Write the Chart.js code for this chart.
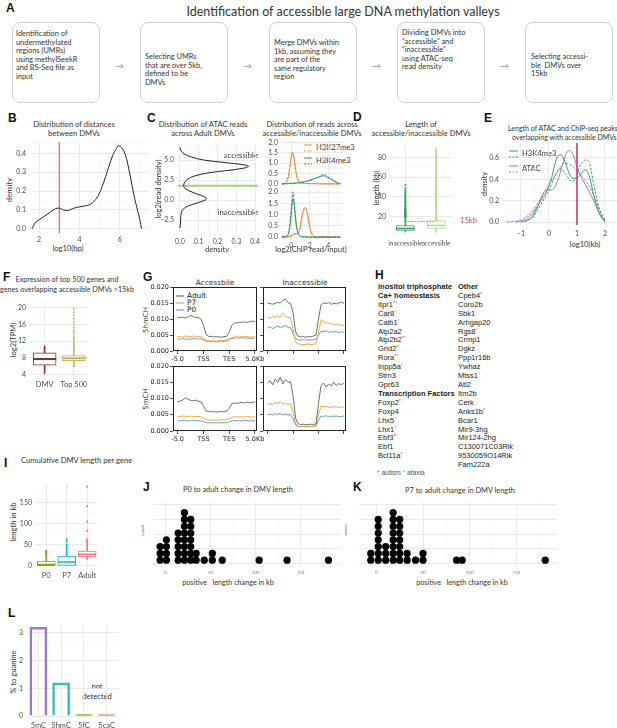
<!DOCTYPE html>
<html><head><meta charset="utf-8"><title>Accessible large DNA methylation valleys</title>
<script src="https://cdn.jsdelivr.net/npm/chart.js@4.4.1/dist/chart.umd.min.js"></script>
<style>
html,body{margin:0;padding:0;background:#fff;}
#root{position:relative;width:617px;height:728px;overflow:hidden;font-family:Lato,'Liberation Sans',sans-serif;color:#333;}
.t{position:absolute;white-space:nowrap;line-height:1;font-size:7.6px;color:#333;}
.cc{transform:translate(-50%,-50%);}
.lc{transform:translate(0,-50%);}
.rot{transform:translate(-50%,-50%) rotate(-90deg);}
.rot90{transform:translate(-50%,-50%) rotate(90deg);}
.pl{position:absolute;font-family:'Liberation Sans',Arial,sans-serif;font-weight:bold;font-size:12px;color:#111;line-height:1;}
.box{position:absolute;top:22px;width:88px;height:81px;border:1px solid #cfcfcf;border-radius:8px;box-sizing:border-box;}
.btxt{position:absolute;font-size:7.4px;line-height:8.6px;color:#333;white-space:nowrap;}
.arr{position:absolute;top:61px;font-size:9px;color:#9a9a9a;line-height:1;}
.h{position:absolute;font-family:'Liberation Sans',Arial,sans-serif;font-size:7.5px;line-height:8.9px;color:#222;white-space:nowrap;}
.h i{font-style:normal;font-size:5.5px;line-height:0;vertical-align:2px;}
.s1{color:#e53b3b}.s2{color:#f28a9a}
svg.ov{position:absolute;left:0;top:0;z-index:5;pointer-events:none;}
</style></head>
<body>
<div id="root">
  <div class="pl" style="left:6px;top:2px">A</div>
  <div class="t cc" style="left:343px;top:12px;font-size:12.5px;color:#333">Identification of accessible large DNA methylation valleys</div>
  <div class="box" style="left:12px"></div>
  <div class="box" style="left:140px"></div>
  <div class="box" style="left:269px"></div>
  <div class="box" style="left:397px"></div>
  <div class="box" style="left:525px"></div>
  <div class="btxt" style="left:16px;top:30px">Identification of<br>undermethylated<br>regions (UMRs)<br>using methylSeekR<br>and BS-Seq file as<br>input</div>
  <div class="btxt" style="left:145px;top:53px">Selecting UMRs<br>that are over 5kb,<br>defined to be<br>DMVs</div>
  <div class="btxt" style="left:274px;top:39px">Merge DMVs within<br>1kb, assuming they<br>are part of the<br>same regulatory<br>region</div>
  <div class="btxt" style="left:402px;top:29px">Dividing DMVs into<br>“accessible” and<br>“inaccessible”<br>using ATAC-seq<br>read density</div>
  <div class="btxt" style="left:531px;top:53px">Selecting accessi-<br>ble&nbsp; DMVs over<br>15kb</div>
  <div class="arr" style="left:115px">→</div>
  <div class="arr" style="left:243px">→</div>
  <div class="arr" style="left:372px">→</div>
  <div class="arr" style="left:500px">→</div>

  <div class="pl" style="left:8px;top:112px">B</div>
  <div class="pl" style="left:147px;top:112px">C</div>
  <div class="pl" style="left:353px;top:111px">D</div>
  <div class="pl" style="left:484px;top:112px">E</div>
  <div class="pl" style="left:3px;top:271px">F</div>
  <div class="pl" style="left:143px;top:271px">G</div>
  <div class="pl" style="left:375px;top:269px">H</div>
  <div class="pl" style="left:4px;top:457px">I</div>
  <div class="pl" style="left:143px;top:481px">J</div>
  <div class="pl" style="left:353px;top:481px">K</div>
  <div class="pl" style="left:8px;top:607px">L</div>

  <div class="h" style="left:378px;top:283px"><b>inositol triphosphate</b><br><b>Ca+ homeostasis</b><br>Itpr1<i class="s1">*</i><i class="s2">*</i><br>Car8<i class="s2">*</i><br>Calb1<i class="s2">*</i><br>Atp2a2<br>Atp2b2<i class="s1">*</i><i class="s2">*</i><br>Grid2<i class="s1">*</i><i class="s2">*</i><br>Rora<i class="s1">*</i><i class="s2">*</i><br>Inpp5a<i class="s2">*</i><br>Strn3<br>Gpr63<br><b>Transcription Factors</b><br>Foxp2<i class="s1">*</i><br>Foxp4<br>Lhx5<i class="s2">*</i><br>Lhx1<i class="s2">*</i><br>Ebf3<i class="s1">*</i><i class="s2">*</i><br>Ebf1<br>Bcl11a<i class="s1">*</i></div>
  <div class="h" style="left:458px;top:283px"><b>Other</b><br>Cpeb4<i class="s1">*</i><br>Coro2b<br>Sbk1<br>Arhgap20<br>Rgs8<i class="s2">*</i><br>Crmp1<br>Dgkz<br>Ppp1r16b<br>Ywhaz<br>Mtss1<i class="s2">*</i><br>Atl2<br>Itm2b<br>Cerk<br>Anks1b<i class="s1">*</i><br>Bcar1<br>Mir9-3hg<br>Mir124-2hg<br>C130071C03Rik<br>9530059O14Rik<br>Fam222a</div>
  <div class="h" style="left:377px;top:469px;font-size:6.6px;color:#555"><i class="s1" style="font-size:6.6px;vertical-align:0">*</i> autism <i class="s2" style="font-size:6.6px;vertical-align:0">*</i> ataxia</div>

  <svg class="ov" width="617" height="728">
    <line x1="304" y1="145" x2="312" y2="145" stroke="#f0883c" stroke-width="1"/>
    <line x1="304" y1="151" x2="312" y2="151" stroke="#f0883c" stroke-width="1" stroke-dasharray="2,1.5"/>
    <line x1="304" y1="158" x2="312" y2="158" stroke="#2e9a5a" stroke-width="1"/>
    <line x1="304" y1="164" x2="312" y2="164" stroke="#2e9a5a" stroke-width="1" stroke-dasharray="2,1.5"/>
    <line x1="509" y1="151" x2="518" y2="151" stroke="#35a066" stroke-width="1"/>
    <line x1="509" y1="157" x2="518" y2="157" stroke="#35a066" stroke-width="1" stroke-dasharray="2,1.5"/>
    <line x1="509" y1="166" x2="518" y2="166" stroke="#a478cf" stroke-width="1"/>
    <line x1="509" y1="172" x2="518" y2="172" stroke="#a478cf" stroke-width="1" stroke-dasharray="2,1.5"/>
    <line x1="176" y1="296" x2="184" y2="296" stroke="#6e6e6e" stroke-width="1.2"/>
    <line x1="176" y1="303" x2="184" y2="303" stroke="#f6a540" stroke-width="1.2"/>
    <line x1="176" y1="310" x2="184" y2="310" stroke="#6c9bd6" stroke-width="1.2"/>
  </svg>
</div>
<script>
// ---------------- DATA ----------------
// B: distribution of distances between DMVs
const B_x = [1.65,1.8,2.0,2.2,2.4,2.6,2.8,3.0,3.2,3.4,3.6,3.8,4.0,4.2,4.4,4.6,4.8,5.0,5.2,5.4,5.6,5.8,5.95,6.1,6.3,6.5,6.7,6.9,7.0,7.08];
const B_density = [0.0,0.03,0.048,0.062,0.077,0.092,0.106,0.11,0.1,0.097,0.104,0.112,0.116,0.12,0.124,0.134,0.155,0.19,0.245,0.31,0.375,0.42,0.44,0.43,0.385,0.29,0.18,0.09,0.045,0.0];
const B_cutoff = 3;

// C (left): ATAC read density across adult DMVs
const C_readDensity = [6.6,6.2,5.8,5.4,5.0,4.7,4.45,4.25,4.0,3.7,3.4,3.0,2.6,2.2,1.8,1.4,1.0,0.6,0.25,0.0,-0.3,-0.6,-0.9,-1.3,-1.8,-2.5,-3.0,-3.5];
const C_density = [0.0,0.006,0.022,0.06,0.13,0.24,0.33,0.365,0.34,0.25,0.15,0.075,0.04,0.025,0.02,0.03,0.065,0.11,0.14,0.135,0.1,0.06,0.03,0.012,0.006,0.004,0.003,0.0];
const C_cutoff = 1.8;

// C (right): ChIP read/input distributions
const CA_k27_x = [-1.0,-0.6,-0.3,-0.1,0.05,0.15,0.3,0.45,0.7,1.0,1.5,2.5,3.5,4.5,5.3];
const CA_k27_solid = [0.0,0.05,0.35,0.95,1.4,1.52,1.3,0.8,0.25,0.06,0.02,0.01,0.0,0.0,0.0];
const CA_k27_dash = [0.0,0.06,0.38,0.98,1.38,1.45,1.2,0.7,0.22,0.05,0.02,0.01,0.0,0.0,0.0];
const CA_k4_x = [-1.0,-0.5,0.0,0.5,1.0,1.5,2.0,2.5,3.0,3.5,4.0,4.5,5.0,5.3];
const CA_k4_solid = [0.0,0.01,0.02,0.04,0.07,0.11,0.17,0.25,0.33,0.39,0.3,0.17,0.05,0.0];
const CA_k4_dash = [0.0,0.01,0.02,0.04,0.07,0.1,0.16,0.24,0.34,0.45,0.33,0.18,0.06,0.0];
const CI_k4_x = [-1.0,-0.5,-0.2,0.0,0.1,0.2,0.3,0.45,0.6,0.8,1.0,1.5,2.5,5.3];
const CI_k4_solid = [0.0,0.02,0.3,1.0,1.45,1.72,1.5,0.9,0.4,0.12,0.04,0.01,0.0,0.0];
const CI_k4_dash = [0.0,0.03,0.4,1.25,1.8,2.0,1.7,1.0,0.42,0.12,0.04,0.01,0.0,0.0];
const CI_k27_x = [-1.0,-0.3,0.0,0.3,0.6,0.9,1.1,1.3,1.5,1.7,1.9,2.1,2.3,2.6,3.0,5.3];
const CI_k27_solid = [0.0,0.02,0.05,0.12,0.15,0.3,0.8,1.2,1.32,1.15,0.7,0.3,0.1,0.02,0.0,0.0];
const CI_k27_dash = [0.0,0.02,0.06,0.15,0.18,0.3,0.75,1.15,1.28,1.1,0.68,0.28,0.09,0.02,0.0,0.0];

// D: length of DMVs (boxplot stats, kb)
const D_categories = ['inaccessible','accessible'];
const D_low = [5,5];
const D_q1 = [6,8];
const D_median = [8,11];
const D_q3 = [11,16];
const D_high = [18,28];
const D_out_inaccessible = [19,19.5,20,20.5,21,22,22.5,23,24,25,25.5,26.5,27.5,28.5,30,31,32.5,34,35.5,37,38.5,40,42,44,46,48.5,52];
const D_out_accessible = [29,30,31,32,33,34,35,36,37,38,39,40.5,42,43,44,45.5,47,48,49.5,51,52,53.5,55,56,57.5,59,60,61.5,63,64.5,66,67,68.5,70,71.5,73,74.5,76,77.5,79,80.5,82,84,86,88];
const D_cutoff = 15;

// E: peak length densities (log10 kb)
const E_k4_x = [-0.9,-0.6,-0.3,-0.1,0.1,0.25,0.4,0.55,0.7,0.85,1.0,1.15,1.3,1.45,1.6,1.8,2.0];
const E_k4_solid = [0,0.05,0.2,0.28,0.42,0.58,0.63,0.58,0.47,0.41,0.41,0.45,0.49,0.42,0.25,0.08,0.0];
const E_k4d_x = [-1.0,-0.6,-0.3,0,0.2,0.4,0.6,0.8,0.95,1.1,1.3,1.45,1.6,1.8,2.0];
const E_k4_dash = [0,0.04,0.16,0.3,0.42,0.5,0.45,0.38,0.4,0.52,0.58,0.55,0.35,0.12,0.01];
const E_atac_x = [-1.2,-0.8,-0.4,-0.1,0.1,0.3,0.5,0.7,0.85,1.0,1.2,1.4,1.6,1.8,2.0];
const E_atac_solid = [0,0.03,0.15,0.3,0.3,0.38,0.55,0.67,0.64,0.52,0.4,0.3,0.2,0.08,0.01];
const E_atacd_x = [-1.5,-1.0,-0.6,-0.3,0,0.3,0.55,0.8,1.0,1.2,1.4,1.6,1.8,2.0];
const E_atac_dash = [0,0.02,0.1,0.22,0.35,0.47,0.55,0.53,0.48,0.42,0.35,0.25,0.12,0.02];
const E_marker = 1;

// F: expression boxplots log2(TPM)
const F_categories = ['DMV','Top 500'];
const F_low = [4.2,6.4];
const F_q1 = [6.2,7.3];
const F_median = [7.7,7.9];
const F_q3 = [9.2,8.5];
const F_high = [10.8,10.2];
const F_out_DMV = [];
const F_out_Top500 = [5.9,6.1,10.4,10.6,10.9,11.2,11.5,11.8,12.1,12.5,12.9,13.3,13.8,14.3,14.8,15.4,16.0,16.7,17.4,18.2,19.0,19.8];

// G: profiles, 31 bins (-5kb .. TSS .. TES .. +5kb)
const G_x = [0,1,2,3,4,5,6,7,8,9,10,11,12,13,14,15,16,17,18,19,20,21,22,23,24,25,26,27,28,29,30];
const G_tick_labels = ['-5.0','TSS','TES','5.0Kb'];
const G_hmC_acc_adult = [0.0105,0.0104,0.0106,0.0103,0.0107,0.0112,0.0108,0.0104,0.0105,0.0100,0.0082,0.0052,0.0046,0.0045,0.0044,0.0045,0.0044,0.0043,0.0045,0.0046,0.0058,0.0080,0.0087,0.0088,0.0089,0.0090,0.0091,0.0089,0.0092,0.0093,0.0091];
const G_hmC_acc_p7 = [0.0045,0.0046,0.0044,0.0047,0.0046,0.0045,0.0047,0.0044,0.0046,0.0045,0.0040,0.0034,0.0032,0.0031,0.0032,0.0031,0.0032,0.0033,0.0032,0.0033,0.0038,0.0042,0.0044,0.0047,0.0043,0.0045,0.0044,0.0046,0.0043,0.0045,0.0044];
const G_hmC_acc_p0 = [0.0038,0.0037,0.0039,0.0036,0.0038,0.0037,0.0039,0.0038,0.0037,0.0038,0.0035,0.0031,0.0030,0.0029,0.0030,0.0029,0.0030,0.0031,0.0030,0.0031,0.0035,0.0039,0.0040,0.0041,0.0040,0.0042,0.0039,0.0041,0.0040,0.0039,0.0041];
const G_hmC_inacc_adult = [0.0150,0.0148,0.0146,0.0149,0.0152,0.0150,0.0158,0.0162,0.0151,0.0149,0.0120,0.0060,0.0046,0.0044,0.0045,0.0043,0.0046,0.0044,0.0047,0.0049,0.0100,0.0145,0.0150,0.0148,0.0152,0.0146,0.0149,0.0147,0.0150,0.0153,0.0149];
const G_hmC_inacc_p7 = [0.0105,0.0102,0.0108,0.0104,0.0110,0.0106,0.0118,0.0109,0.0106,0.0104,0.0070,0.0028,0.0022,0.0021,0.0020,0.0021,0.0022,0.0020,0.0021,0.0023,0.0060,0.0098,0.0092,0.0088,0.0086,0.0085,0.0083,0.0084,0.0082,0.0080,0.0081];
const G_hmC_inacc_p0 = [0.0072,0.0075,0.0070,0.0074,0.0078,0.0073,0.0076,0.0079,0.0074,0.0072,0.0055,0.0038,0.0035,0.0034,0.0036,0.0034,0.0035,0.0034,0.0036,0.0037,0.0048,0.0062,0.0060,0.0063,0.0058,0.0061,0.0059,0.0062,0.0057,0.0060,0.0059];
const G_mC_acc_adult = [0.0090,0.0092,0.0095,0.0102,0.0098,0.0094,0.0093,0.0095,0.0092,0.0090,0.0078,0.0062,0.0060,0.0059,0.0060,0.0058,0.0059,0.0060,0.0059,0.0061,0.0070,0.0084,0.0086,0.0085,0.0087,0.0088,0.0086,0.0089,0.0087,0.0088,0.0090];
const G_mC_acc_p7 = [0.0045,0.0044,0.0046,0.0045,0.0044,0.0046,0.0045,0.0044,0.0045,0.0044,0.0040,0.0035,0.0034,0.0033,0.0034,0.0033,0.0034,0.0035,0.0034,0.0035,0.0038,0.0042,0.0043,0.0044,0.0043,0.0044,0.0043,0.0045,0.0044,0.0043,0.0044];
const G_mC_acc_p0 = [0.0032,0.0031,0.0033,0.0032,0.0031,0.0032,0.0033,0.0031,0.0032,0.0031,0.0029,0.0026,0.0025,0.0025,0.0026,0.0025,0.0025,0.0026,0.0025,0.0026,0.0028,0.0031,0.0032,0.0031,0.0032,0.0031,0.0033,0.0032,0.0031,0.0032,0.0031];
const G_mC_inacc_adult = [0.0148,0.0155,0.0142,0.0160,0.0150,0.0165,0.0145,0.0158,0.0150,0.0152,0.0110,0.0040,0.0022,0.0020,0.0021,0.0019,0.0020,0.0021,0.0020,0.0022,0.0085,0.0140,0.0148,0.0135,0.0145,0.0138,0.0150,0.0140,0.0146,0.0142,0.0148];
const G_mC_inacc_p7 = [0.0082,0.0085,0.0080,0.0088,0.0084,0.0090,0.0083,0.0086,0.0082,0.0084,0.0060,0.0022,0.0015,0.0014,0.0015,0.0014,0.0015,0.0014,0.0015,0.0016,0.0050,0.0078,0.0074,0.0076,0.0072,0.0075,0.0073,0.0076,0.0072,0.0074,0.0073];
const G_mC_inacc_p0 = [0.0050,0.0052,0.0049,0.0053,0.0051,0.0054,0.0050,0.0052,0.0049,0.0051,0.0038,0.0018,0.0014,0.0013,0.0014,0.0013,0.0014,0.0013,0.0014,0.0015,0.0032,0.0046,0.0045,0.0047,0.0044,0.0046,0.0045,0.0046,0.0044,0.0045,0.0046];

// I: cumulative DMV length per gene (kb)
const I_categories = ['P0','P7','Adult'];
const I_low = [0,0,15];
const I_q1 = [0.5,1,21];
const I_median = [3,9,27];
const I_q3 = [11,23,35];
const I_high = [25,52,52];
const I_out_P0 = [27,29,31,33,36];
const I_out_P7 = [58,63];
const I_out_Adult = [55,58,62,83,105,141,188];

// J / K: dot plots of change in DMV length (kb)
const J_bins = [-6,1,14,21,28,34,43,52,63,104,135,181];
const J_counts = [3,4,5,8,7,2,1,2,1,1,1,1];
const K_bins = [-6,2,10,18,25,33,42,50,86,92,181];
const K_counts = [2,7,3,8,7,2,1,2,1,1,1];

// L: % to guanine
const L_categories = ['5mC','5hmC','5fC','5caC'];
const L_values = [3.2,1.2,0.05,0.05];

// ---------------- HELPERS ----------------
Chart.defaults.font.family = 'Lato';
Chart.defaults.font.size = 7;
Chart.defaults.color = '#4d4d4d';
Chart.defaults.animation = false;
Chart.defaults.plugins.legend.display = false;
Chart.defaults.plugins.tooltip.enabled = false;
Chart.defaults.elements.line.tension = 0;

const root = document.getElementById('root');
function mk(left, top, w, h, cfg){
  const c = document.createElement('canvas');
  c.width = w; c.height = h;
  c.style.cssText = 'position:absolute;left:'+left+'px;top:'+top+'px;width:'+w+'px;height:'+h+'px';
  root.appendChild(c);
  cfg.options = cfg.options || {};
  cfg.options.responsive = false;
  cfg.options.maintainAspectRatio = false;
  cfg.options.devicePixelRatio = 1;
  return new Chart(c, cfg);
}
function T(html, x, y, mode, extra){
  const d = document.createElement('div');
  d.className = 't ' + (mode || 'cc');
  d.style.left = x + 'px'; d.style.top = y + 'px';
  if (extra) d.style.cssText += extra;
  d.innerHTML = html;
  root.appendChild(d);
}
const near = (v, m) => Math.abs(v / m - Math.round(v / m)) < 1e-6;
function fixPad(s){ s.paddingTop = 0; s.paddingBottom = 0; s.paddingLeft = 0; s.paddingRight = 0; }
function lin(o){
  const horiz = o.pos === 'bottom' || o.pos === 'top';
  return {
    type:'linear', position:o.pos, min:o.min, max:o.max,
    afterFit: s => { if (horiz) s.height = o.size; else s.width = o.size; fixPad(s); },
    border:{display:false},
    grid:{display:o.grid !== false, drawTicks:false,
      color: c => (c.tick && near(c.tick.value, o.major)) ? '#e3e3e3' : '#f1f1f1',
      lineWidth: c => (c.tick && near(c.tick.value, o.major)) ? 0.8 : 0.5},
    ticks:{display:o.labels !== false, stepSize:o.step, includeBounds:false, autoSkip:false, maxRotation:0,
      padding: o.pad === undefined ? 3 : o.pad, color:o.color || '#4d4d4d', font:{size:o.fs || 7},
      callback: v => near(v, o.major) ? o.fmt(v) : ''}
  };
}
function cat(o){
  return {type:'category', position:'bottom', offset:true,
    afterFit: s => { s.height = o.size; fixPad(s); },
    border:{display:false},
    grid:{display:true, drawTicks:false, offset:false, color:'#e3e3e3', lineWidth:0.8},
    ticks:{autoSkip:false, maxRotation:0, padding:o.pad || 3, color:'#4d4d4d', font:{size:o.fs || 7.5}}};
}
const fmt1 = v => (v < 0 ? '\u2212' : '') + Math.abs(v).toFixed(1);
const fmtInt = v => String(Math.round(v));
const pts = (xs, ys) => xs.map((x, i) => ({x:x, y:ys[i]}));
function curve(data, color, dash, w){
  return {data:data, borderColor:color, borderWidth:w || 1, borderDash:dash ? [2.5,1.5] : [], pointRadius:0, cubicInterpolationMode:'monotone'};
}
function boxSets(cats, lo, q1, med, q3, hi, outs, cols, thick, medW, outR){
  const sets = [
    {type:'bar', data: lo.map((v,i) => [v, hi[i]]), backgroundColor:cols, borderWidth:0, barThickness:1, grouped:false, order:4},
    {type:'bar', data: q1.map((v,i) => [v, q3[i]]), backgroundColor:'#ffffff', borderColor:cols, borderWidth:1, borderSkipped:false, barThickness:thick, grouped:false, order:3},
    {type:'line', data: med.slice(), showLine:false, pointStyle:'line', pointRadius:thick/2, pointHoverRadius:thick/2, pointBorderColor:cols, pointBackgroundColor:cols, pointBorderWidth:medW, order:2}
  ];
  outs.forEach((arr, i) => sets.push({type:'line', data: arr.map(v => ({x:cats[i], y:v})), showLine:false, pointRadius:outR, pointBorderWidth:0, pointBackgroundColor:cols[i], order:1}));
  return sets;
}
function stackDots(bins, counts){
  const out = [];
  bins.forEach((b, i) => { for (let k = 1; k <= counts[i]; k++) out.push({x:b, y:k}); });
  return out;
}
const framePlugin = {id:'frame', afterDraw(chart){
  const a = chart.chartArea, c = chart.ctx;
  c.save(); c.strokeStyle = '#222'; c.lineWidth = 1;
  c.strokeRect(Math.round(a.left) + 0.5, Math.round(a.top) + 0.5, Math.round(a.right - a.left) - 1, Math.round(a.bottom - a.top) - 1);
  c.restore();
}};

// ---------------- B ----------------
T('Distribution of distances', 74, 125);
T('between DMVs', 74, 134);
T('density', 10, 190, 'rot');
T('log10(bp)', 68, 249);
mk(0, 135, 155, 115, {type:'line', data:{datasets:[
    curve(pts(B_x, B_density), '#222', false, 1),
    {data:[{x:B_cutoff, y:-0.022},{x:B_cutoff, y:0.46}], borderColor:'#e0463c', borderWidth:1, pointRadius:0}
  ]},
  options:{layout:{padding:{top:7, right:7, left:0, bottom:0}}, scales:{
    x: lin({pos:'bottom', min:1.6, max:7.4, step:1, major:2, size:17, fmt:fmtInt, pad:3}),
    y: lin({pos:'left', min:-0.022, max:0.46, step:0.05, major:0.1, size:31, fmt:v => v.toFixed(1), pad:5})
  }}});

// ---------------- C left ----------------
T('Distribution of ATAC reads', 203, 125);
T('across Adult DMVs', 203, 134);
T('log2(read density)', 159, 189, 'rot');
T('density', 217, 250);
T('accessible', 258, 156, 'lc', 'transform:translate(-100%,-50%);font-size:7.8px');
T('inaccessible', 258, 213, 'lc', 'transform:translate(-100%,-50%);font-size:7.8px');
mk(150, 140, 110, 106, {type:'line', data:{datasets:[
    {data:pts(C_density, C_readDensity), borderColor:'#222', borderWidth:1, pointRadius:0, tension:0.35},
    {data:[{x:-0.01, y:C_cutoff},{x:0.415, y:C_cutoff}], borderColor:'#a5d07f', borderWidth:2, pointRadius:0}
  ]},
  options:{layout:{padding:{top:5, right:2, left:0, bottom:0}}, scales:{
    x: lin({pos:'bottom', min:-0.01, max:0.415, step:0.05, major:0.1, size:14, fmt:v => v.toFixed(1), pad:6}),
    y: lin({pos:'left', min:-4, max:6.9, step:1.25, major:2.5, size:28, fmt:fmt1, pad:4})
  }}});

// ---------------- C right ----------------
T('Distribution of reads across', 312, 125);
T('accessible/inaccessible DMVs', 312, 134);
T('H3K27me3', 316, 148, 'lc', 'font-size:7.6px');
T('H3K4me3', 316, 161, 'lc', 'font-size:7.6px');
T('log2(ChIP read/input)', 311, 250);
mk(262, 137, 81, 50, {type:'line', data:{datasets:[
    curve(pts(CA_k4_x, CA_k4_solid), '#2e9a5a', false),
    curve(pts(CA_k4_x, CA_k4_dash), '#2e9a5a', true),
    curve(pts(CA_k27_x, CA_k27_solid), '#f0883c', false),
    curve(pts(CA_k27_x, CA_k27_dash), '#f0883c', true)
  ]},
  options:{layout:{padding:{top:3, right:0, left:0, bottom:0}}, scales:{
    x: lin({pos:'bottom', min:-1.1, max:5.6, step:1, major:2, size:0, labels:false, fmt:fmtInt}),
    y: lin({pos:'left', min:-0.15, max:2.11, step:0.25, major:0.5, size:19, fmt:v => v.toFixed(1), pad:3})
  }}});
mk(262, 187, 81, 63, {type:'line', data:{datasets:[
    curve(pts(CI_k4_x, CI_k4_solid), '#2e9a5a', false),
    curve(pts(CI_k4_x, CI_k4_dash), '#2e9a5a', true),
    curve(pts(CI_k27_x, CI_k27_solid), '#f0883c', false),
    curve(pts(CI_k27_x, CI_k27_dash), '#f0883c', true)
  ]},
  options:{layout:{padding:{top:3, right:0, left:0, bottom:0}}, scales:{
    x: lin({pos:'bottom', min:-1.1, max:5.6, step:1, major:2, size:10, fmt:fmtInt, pad:2}),
    y: lin({pos:'left', min:-0.13, max:2.1, step:0.25, major:0.5, size:19, fmt:v => v.toFixed(1), pad:3})
  }}});

// ---------------- D ----------------
T('Length of', 421, 125);
T('accessible/inaccessible DMVs', 421, 134);
T('length (kb)', 377, 188, 'rot');
T('15kb', 460, 221, 'lc', 'color:#d9453e;font-size:7.6px');
const D_cols = ['#2f9e5a', '#b5da8b'];
const D_sets = boxSets(D_categories, D_low, D_q1, D_median, D_q3, D_high, [D_out_inaccessible, D_out_accessible], D_cols, 18, 1.5, 1.1);
D_sets.push({type:'line', xAxisID:'x2', data:[{x:0, y:D_cutoff},{x:1, y:D_cutoff}], borderColor:'#e0463c', borderWidth:0.8, borderDash:[1.5,1.5], pointRadius:0, order:0});
mk(350, 135, 112, 111, {type:'bar', data:{labels:D_categories, datasets:D_sets},
  options:{layout:{padding:{top:2, right:2, left:0, bottom:0}}, scales:{
    x: cat({size:10, fs:6.6, pad:4}),
    x2: {type:'linear', display:false, min:0, max:1},
    y: lin({pos:'left', min:0.9, max:92, step:10, major:20, size:40, fmt:fmtInt, pad:4})
  }}});

// ---------------- E ----------------
T('Length of ATAC and ChIP-seq peaks', 508, 128, 'lc', 'font-size:7px');
T('overlapping with accessible DMVs', 512, 137, 'lc', 'font-size:7px');
T('density', 485, 184, 'rot');
T('log10(kb)', 585, 245);
T('H3K4me3', 522, 154, 'lc');
T('ATAC', 522, 169, 'lc');
mk(478, 140, 139, 97, {type:'line', data:{datasets:[
    {data:[{x:E_marker, y:-0.028},{x:E_marker, y:0.74}], borderColor:'rgba(178,80,120,0.85)', borderWidth:2, pointRadius:0},
    curve(pts(E_k4_x, E_k4_solid), '#35a066', false),
    curve(pts(E_k4d_x, E_k4_dash), '#35a066', true),
    curve(pts(E_atac_x, E_atac_solid), '#a478cf', false),
    curve(pts(E_atacd_x, E_atac_dash), '#a478cf', true)
  ]},
  options:{layout:{padding:{top:3, right:0, left:0, bottom:0}}, scales:{
    x: lin({pos:'bottom', min:-1.64, max:2.43, step:0.5, major:1, size:12, fmt:v => (v < 0 ? '\u2212' : '') + Math.abs(Math.round(v)), pad:5}),
    y: lin({pos:'left', min:-0.028, max:0.74, step:0.1, major:0.2, size:25, fmt:v => v.toFixed(1), pad:4})
  }}});

// ---------------- F ----------------
T('Expression of top 500 genes and', 67, 280, 'cc', 'font-size:7.2px');
T('genes overlapping accessible DMVs &gt;15kb', 67, 290, 'cc', 'font-size:7.2px');
T('log2(TPM)', 14, 340, 'rot');
const F_cols = ['#8c2d2d', '#c8b45a'];
mk(0, 292, 102, 100, {type:'bar', data:{labels:F_categories,
    datasets: boxSets(F_categories, F_low, F_q1, F_median, F_q3, F_high, [F_out_DMV, F_out_Top500], F_cols, 23, 2, 0.9)},
  options:{layout:{padding:{top:2, right:2, left:0, bottom:0}}, scales:{
    x: cat({size:10, fs:7.5, pad:2}),
    y: lin({pos:'left', min:3, max:20.6, step:2, major:4, size:30, fmt:fmtInt, pad:4})
  }}});

// ---------------- G ----------------
T('Accessbile', 215, 283, 'cc', "font-family:'DejaVu Sans';font-size:7.4px");
T('Inaccessible', 305, 283, 'cc', "font-family:'DejaVu Sans';font-size:7.4px");
T('5hmCH', 146, 320, 'rot', "font-family:'DejaVu Sans';font-size:7px");
T('5mCH', 146, 399, 'rot', "font-family:'DejaVu Sans';font-size:7px");
T('Adult', 187, 296, 'lc', "font-family:'DejaVu Sans';font-size:7.4px;color:#222");
T('P7', 187, 303, 'lc', "font-family:'DejaVu Sans';font-size:7.4px;color:#222");
T('P0', 187, 310, 'lc', "font-family:'DejaVu Sans';font-size:7.4px;color:#222");
function gSets(adult, p7, p0){
  return [
    {data:pts(G_x, adult), borderColor:'#6e6e6e', borderWidth:1, pointRadius:0},
    {data:pts(G_x, p7), borderColor:'#f6a540', borderWidth:1, pointRadius:0},
    {data:pts(G_x, p0), borderColor:'#6c9bd6', borderWidth:1, pointRadius:0}
  ];
}
function gX(labels){
  return {type:'linear', position:'bottom', min:-1.8, max:30.8,
    afterFit: s => { s.height = 11; fixPad(s); }, border:{display:false},
    grid:{drawOnChartArea:false, drawTicks:true, tickLength:3, color:'#222', lineWidth:0.8},
    ticks:{display:labels, stepSize:10, includeBounds:false, autoSkip:false, maxRotation:0, padding:1, color:'#222',
      font:{family:'DejaVu Sans', size:6.5}, callback: v => G_tick_labels[Math.round(v / 10)]}};
}
function gY(labels, w){
  return {type:'linear', position:'left', min:0, max:0.02,
    afterFit: s => { s.width = w; fixPad(s); }, border:{display:false},
    grid:{drawOnChartArea:false, drawTicks:true, tickLength:3, color:'#222', lineWidth:0.8},
    ticks:{display:labels, stepSize:0.005, includeBounds:false, autoSkip:false, padding:1, color:'#222',
      font:{family:'DejaVu Sans', size:6.5}, callback: v => v.toFixed(3)}};
}
mk(135, 283, 132, 79, {type:'line', data:{datasets:gSets(G_hmC_acc_adult, G_hmC_acc_p7, G_hmC_acc_p0)}, plugins:[framePlugin],
  options:{layout:{padding:{top:4, right:10, left:0, bottom:0}}, scales:{x:gX(true), y:gY(true, 38)}}});
mk(259, 283, 97, 79, {type:'line', data:{datasets:gSets(G_hmC_inacc_adult, G_hmC_inacc_p7, G_hmC_inacc_p0)}, plugins:[framePlugin],
  options:{layout:{padding:{top:4, right:10, left:0, bottom:0}}, scales:{x:gX(false), y:gY(false, 4)}}});
mk(135, 362, 132, 80, {type:'line', data:{datasets:gSets(G_mC_acc_adult, G_mC_acc_p7, G_mC_acc_p0)}, plugins:[framePlugin],
  options:{layout:{padding:{top:4, right:10, left:0, bottom:0}}, scales:{x:gX(true), y:gY(true, 38)}}});
mk(259, 362, 97, 80, {type:'line', data:{datasets:gSets(G_mC_inacc_adult, G_mC_inacc_p7, G_mC_inacc_p0)}, plugins:[framePlugin],
  options:{layout:{padding:{top:4, right:10, left:0, bottom:0}}, scales:{x:gX(false), y:gY(false, 4)}}});

// ---------------- I ----------------
T('Cumulative DMV length per gene', 21, 461, 'lc', 'font-size:7.6px');
T('length in kb', 14, 522, 'rot');
const I_cols = ['#7cae00', '#00bfc4', '#f8766d'];
mk(0, 473, 108, 107, {type:'bar', data:{labels:I_categories,
    datasets: boxSets(I_categories, I_low, I_q1, I_median, I_q3, I_high, [I_out_P0, I_out_P7, I_out_Adult], I_cols, 18, 1.6, 1.1)},
  options:{layout:{padding:{top:2, right:2, left:0, bottom:0}}, scales:{
    x: cat({size:10, fs:7.5, pad:2}),
    y: lin({pos:'left', min:-8.6, max:195, step:25, major:50, size:36, fmt:fmtInt, pad:4})
  }}});

// ---------------- J / K ----------------
T('P0 to adult change in DMV length', 238, 490, 'cc', 'font-size:7.4px');
T('P7 to adult change in DMV length', 460, 491, 'cc', 'font-size:7.4px');
T('positive&nbsp;&nbsp; length change in kb', 228, 583, 'cc', 'font-size:7.2px');
T('positive&nbsp;&nbsp; length change in kb', 462, 583, 'cc', 'font-size:7.2px');
T('count', 143, 530, 'rot', 'font-size:4.5px;color:#666');
T('count', 346, 530, 'rot90', 'font-size:4.5px;color:#666');
function dotChart(left, width, bins, counts, xmin, xmax){
  mk(left, 498, width, 78, {type:'scatter', data:{datasets:[
      {data: stackDots(bins, counts), pointRadius:3.6, pointBackgroundColor:'#000', pointBorderWidth:0, xAxisID:'x', yAxisID:'y'}
    ]},
    options:{layout:{padding:{top:2, right:1, left:0, bottom:0}}, scales:{
      x: lin({pos:'bottom', min:xmin, max:xmax, step:25, major:50, size:10, fmt:fmtInt, fs:4.5, color:'#888', pad:4}),
      yg: lin({pos:'left', min:-0.05, max:1.05, step:0.25, major:0.25, size:0, labels:false, fmt:v => ''}),
      y: {type:'linear', display:false, min:0.143, max:9.571}
    }}});
}
dotChart(150, 194, J_bins, J_counts, -12.8, 193.8);
dotChart(355, 206, K_bins, K_counts, -18.6, 193.6);

// ---------------- L ----------------
T('% to guanine', 14, 672, 'rot');
T('not', 97, 687, 'cc', 'font-size:7.6px');
T('detected', 97, 697, 'cc', 'font-size:7.6px');
const L_cols = ['#a46fd6', '#2ebfbf', '#7cae00', '#f08080'];
mk(0, 623, 120, 105, {type:'bar', data:{labels:L_categories, datasets:[
    {data:L_values, backgroundColor:['rgba(255,255,255,0)','rgba(255,255,255,0)', L_cols[2], L_cols[3]], borderColor:L_cols, borderWidth:1.8, borderSkipped:'bottom', barThickness:17}
  ]},
  options:{layout:{padding:{top:2, right:2, left:0, bottom:0}}, scales:{
    x: cat({size:9, fs:7.5, pad:2}),
    y: lin({pos:'left', min:-0.108, max:3.285, step:0.5, major:1, size:27, fmt:fmtInt, pad:4})
  }}});
</script>
</body></html>
